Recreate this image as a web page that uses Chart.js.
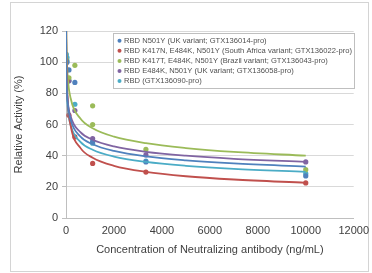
<!DOCTYPE html>
<html>
<head>
<meta charset="utf-8">
<script src="https://cdn.jsdelivr.net/npm/chart.js@4.4.1/dist/chart.umd.min.js"></script>
<style>
  html, body { margin: 0; padding: 0; background: #fff; }
  #wrap { width: 372px; height: 273px; }
</style>
</head>
<body>
<div id="wrap"><canvas id="chart" width="372" height="273"></canvas></div>
<script>
// measured concentrations (ng/mL)
const conc = [10000, 3333, 1111, 370, 123, 41, 13.7]

const seriesNames = [
    'RBD N501Y (UK variant; GTX136014-pro)',
    'RBD K417N, E484K, N501Y (South Africa variant; GTX136022-pro)',
    'RBD K417T, E484K, N501Y (Brazil variant; GTX136043-pro)',
    'RBD E484K, N501Y (UK variant; GTX136058-pro)',
    'RBD (GTX136090-pro)',
]
const colors = ['#4f81bd', '#c0504d', '#9bbb59', '#8064a2', '#4bacc6']

// measured relative activity (%)
const blueVals = [27, 36, 49, 87, 95, 100, 101]
const redVals = [22.5, 29.5, 35, 52, 66, 88, 100]
const greenVals = [31, 44, 72, 98, 90, 101, 100]
const purpleVals = [36, 40.5, 51, 69, 88, 95, 100]
const cyanVals = [28.5, 36.5, 48, 73, 88, 103, 105]
const greenExtra = [{ x: 1111, y: 60 }]

// trend lines
const fitX = [3, 8, 25, 70, 200, 600, 1111, 2000, 3333, 5000, 7000, 10000]
const blueFit = [125, 106, 88, 74.5, 62.8, 52.3, 47.3, 43, 39.5, 37, 35, 33]
const redFit = [164, 129.6, 98, 76.2, 58.9, 45, 38.7, 33.5, 29.6, 26.8, 24.7, 22.6]
const greenFit = [153.7, 130.7, 108, 91.2, 76.5, 63.8, 57.6, 52.2, 48, 44.9, 42.4, 40]
const purpleFit = [122.6, 105.7, 88.9, 75.7, 65, 55.1, 50.2, 45.9, 42.5, 40, 38, 36]
const cyanFit = [125.4, 105.3, 86, 71.6, 59.3, 48.9, 43.8, 39.4, 36, 33.5, 31.5, 29.6]

const xTicks = [0, 2000, 4000, 6000, 8000, 10000, 12000]
const yTicks = [0, 20, 40, 60, 80, 100, 120]

const allVals = [blueVals, redVals, greenVals, purpleVals, cyanVals]
const allFits = [blueFit, redFit, greenFit, purpleFit, cyanFit]

const datasets = []
allFits.forEach((f, i) => {
    datasets.push({
        label: 'fit' + i,
        data: fitX.map((x, j) => ({ x: x, y: f[j] })),
        showLine: true,
        borderColor: colors[i],
        borderWidth: 1.8,
        pointRadius: 0,
        cubicInterpolationMode: 'monotone',
        isFit: true,
    })
})
allVals.forEach((v, i) => {
    let pts = conc.map((x, j) => ({ x: x, y: v[j] }))
    if (i === 2) pts = pts.concat(greenExtra)
    datasets.push({
        label: seriesNames[i],
        data: pts,
        backgroundColor: colors[i],
        borderColor: colors[i],
        pointRadius: 2.6,
        pointBorderWidth: 0,
        showLine: false,
    })
})

const frameAndLegend = {
    id: 'frameAndLegend',
    beforeDraw(chart) {
        const c = chart.ctx
        c.save()
        c.fillStyle = '#fff'
        c.fillRect(0, 0, chart.width, chart.height)
        c.strokeStyle = '#d4d4d4'
        c.lineWidth = 1
        c.strokeRect(10.5, 2.5, 358, 269)
        c.restore()
    },
    afterDraw(chart) {
        const c = chart.ctx
        c.save()
        c.fillStyle = '#fff'
        c.fillRect(113.5, 33.5, 241, 55)
        c.strokeStyle = '#bfbfbf'
        c.lineWidth = 1
        c.strokeRect(113.5, 33.5, 241, 55)
        c.font = '7.6px "Liberation Sans", Arial, sans-serif'
        c.textBaseline = 'middle'
        let k = 0
        chart.data.datasets.forEach(ds => {
            if (ds.isFit) return
            const y = 40.7 + k * 10.1
            c.fillStyle = ds.backgroundColor
            c.beginPath()
            c.arc(119.5, y, 2, 0, Math.PI * 2)
            c.fill()
            c.fillStyle = '#505050'
            c.fillText(ds.label, 124, y)
            k++
        })
        c.restore()
    },
}

const ctx = document.getElementById('chart')
window.myChart = new Chart(ctx, {
    type: 'scatter',
    data: { datasets: datasets },
    options: {
        responsive: false,
        animation: false,
        layout: { padding: { left: 10, right: 17, top: 31, bottom: 12 } },
        plugins: {
            legend: { display: false },
            tooltip: { enabled: false },
        },
        scales: {
            x: {
                type: 'linear',
                min: 0,
                max: 12000,
                afterBuildTicks: s => { s.ticks = xTicks.map(v => ({ value: v })) },
                afterFit: s => { s.height = 43 },
                grid: { display: false, drawTicks: true, tickLength: 3, tickColor: '#bfbfbf' },
                border: { color: '#bfbfbf' },
                ticks: {
                    color: '#404040',
                    font: { size: 11, family: 'Liberation Sans' },
                    padding: 3,
                    maxRotation: 0,
                    callback: v => String(v),
                },
                title: {
                    display: true,
                    text: 'Concentration of Neutralizing antibody (ng/mL)',
                    color: '#404040',
                    font: { size: 11, family: 'Liberation Sans' },
                    padding: { top: 6 },
                },
            },
            y: {
                min: 0,
                max: 120,
                afterBuildTicks: s => { s.ticks = yTicks.map(v => ({ value: v })) },
                afterFit: s => { s.width = 56 },
                grid: { color: '#d9d9d9', tickLength: 4, tickColor: '#bfbfbf' },
                border: { color: '#bfbfbf' },
                ticks: {
                    color: '#404040',
                    font: { size: 11, family: 'Liberation Sans' },
                    padding: 4,
                    callback: v => String(v),
                },
                title: {
                    display: true,
                    text: 'Relative Activity (%)',
                    color: '#404040',
                    font: { size: 11, family: 'Liberation Sans' },
                    padding: { top: 2, bottom: 0 },
                },
            },
        },
    },
    plugins: [frameAndLegend],
})
</script>
</body>
</html>
